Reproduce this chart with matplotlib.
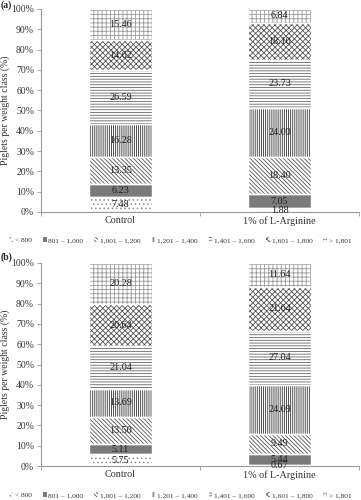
import matplotlib
matplotlib.use("Agg")
import matplotlib.pyplot as plt
from matplotlib.patches import Patch

plt.rcParams['font.family'] = ['Liberation Serif', 'DejaVu Serif']
plt.rcParams['hatch.linewidth'] = 0.6

categories = ["Control", "1% of L-Arginine"]
classes = ["< 800", "801 – 1,000", "1,001 – 1,200", "1,201 – 1,400",
           "1,401 – 1,600", "1,601 – 1,800", "> 1,801"]
panel_a = [
    [7.48, 1.88],
    [6.23, 7.05],
    [13.35, 18.40],
    [16.28, 24.00],
    [26.59, 23.73],
    [14.62, 18.10],
    [15.46, 6.84],
]
panel_b = [
    [5.75, 0.67],
    [5.11, 5.44],
    [13.50, 9.49],
    [13.69, 24.09],
    [21.04, 27.04],
    [20.64, 21.64],
    [20.28, 11.64],
]
yticks = [0, 10, 20, 30, 40, 50, 60, 70, 80, 90, 100]

styles = [
    dict(fc="white", hc="#8a8a8a", hatch="...."),
    dict(fc="#7a7a7a", hc="#7a7a7a", hatch=None),
    dict(fc="white", hc="#555555", hatch="\\\\\\\\\\\\\\\\"),
    dict(fc="white", hc="#333333", hatch="||||||||"),
    dict(fc="white", hc="#666666", hatch="------"),
    dict(fc="white", hc="#555555", hatch="xxxxxx"),
    dict(fc="white", hc="#9a9a9a", hatch="++++"),
]

fig = plt.figure(figsize=(3.61, 5.0), dpi=100)
W, H = 361, 500
axes_specs = [("(a)", panel_a, 212, 9, 240, 5), ("(b)", panel_b, 466, 263, 495, 257)]
xpos = [0, 1]
bw = 0.40
txt_color = "#333333"

for label, data, ybot, ytop, ylegend, ylab in axes_specs:
    ax = fig.add_axes([41 / W, 1 - ybot / H, (359 - 41) / W, (ybot - ytop) / H])
    bottoms = [0.0, 0.0]
    for vals, st in zip(data, styles):
        for i in range(2):
            ax.bar(xpos[i], vals[i], bw, bottom=bottoms[i], color=st["fc"],
                   edgecolor=st["hc"], hatch=st["hatch"], linewidth=0, zorder=2)
            ax.bar(xpos[i], vals[i], bw, bottom=bottoms[i], fill=False,
                   edgecolor="white", linewidth=1.0, zorder=3)
            ax.text(xpos[i], bottoms[i] + vals[i] / 2, f"{vals[i]:.2f}",
                    ha="center", va="center", fontsize=7.3, color="#222222", zorder=4)
        bottoms = [bottoms[0] + vals[0], bottoms[1] + vals[1]]
    ax.set_xlim(-0.5, 1.5)
    ax.set_ylim(0, 100)
    ax.set_yticks(yticks)
    ax.set_yticklabels([f"{t}%" for t in yticks], fontsize=7, color=txt_color)
    ax.set_xticks([-0.5, 0.5, 1.5])
    ax.set_xticklabels([])
    ax.set_xticks(xpos, minor=True)
    ax.set_xticklabels(categories, minor=True, fontsize=7.3, color=txt_color)
    ax.tick_params(axis="x", which="minor", length=0, pad=3)
    ax.tick_params(axis="x", which="major", length=3, color="#999999", width=0.6)
    ax.tick_params(axis="y", length=3, color="#999999", width=0.6, pad=2)
    for s in ["top", "right"]:
        ax.spines[s].set_visible(False)
    for s in ["left", "bottom"]:
        ax.spines[s].set_color("#999999")
        ax.spines[s].set_linewidth(0.8)
    ax.set_ylabel("Piglets per weight class (%)", fontsize=7, color=txt_color)
    ax.yaxis.set_label_coords((10 - 41) / (359 - 41), 0.5)
    fig.text(1 / W, 1 - ylab / H, label, fontsize=7, fontweight="bold", va="center",
             ha="left", color="#222222")
    handles = [Patch(facecolor=st["fc"], edgecolor=st["hc"], hatch=st["hatch"], linewidth=0)
               for st in styles]
    fig.legend(handles, classes, loc="center", bbox_to_anchor=(0.5, 1 - ylegend / H),
               ncol=7, fontsize=5.3, frameon=False, handlelength=0.5, handleheight=0.7,
               handletextpad=0.25, columnspacing=1.5, labelcolor=txt_color,
               borderaxespad=0, borderpad=0)

fig.savefig("out.png", dpi=100)
